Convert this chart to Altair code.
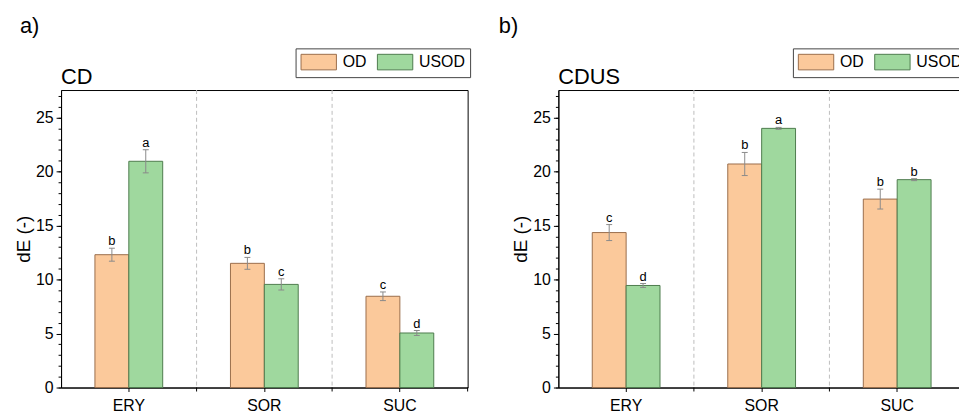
import altair as alt
import pandas as pd

# ---------------- data ----------------
categories = ["ERY", "SOR", "SUC"]
series = ["OD", "USOD"]

cd_od = [12.3, 11.5, 8.45]
cd_od_err = [0.6, 0.55, 0.4]
cd_od_letters = ["b", "b", "c"]
cd_usod = [20.95, 9.55, 5.05]
cd_usod_err = [1.07, 0.52, 0.23]
cd_usod_letters = ["a", "c", "d"]

cdus_od = [14.35, 20.7, 17.45]
cdus_od_err = [0.74, 1.07, 0.92]
cdus_od_letters = ["c", "b", "b"]
cdus_usod = [9.45, 24.0, 19.25]
cdus_usod_err = [0.18, 0.09, 0.09]
cdus_usod_letters = ["d", "a", "b"]

y_ticks = [0, 5, 10, 15, 20, 25]
y_minor = list(range(0, 28))
y_max = 27.55

fills = ["#FBC99B", "#9FD89E"]
strokes = ["#9A6D4B", "#4E7B4E"]
ERR_COL = "#8a8a8a"
FONT = "Liberation Sans"
W, H = 410, 300


def frame(od, od_err, od_l, usod, usod_err, usod_l):
    rows = []
    for i, c in enumerate(categories):
        rows.append(dict(cat=c, grp="OD", val=od[i], err=od_err[i], lab=od_l[i]))
        rows.append(dict(cat=c, grp="USOD", val=usod[i], err=usod_err[i], lab=usod_l[i]))
    df = pd.DataFrame(rows)
    df["lo"] = df["val"] - df["err"]
    df["hi"] = df["val"] + df["err"]
    return df


def panel(df, title, tag, tag_dx):
    xs = alt.Scale(domain=categories, paddingInner=0, paddingOuter=0)
    x_axis = alt.Axis(title=None, labelFontSize=16, labelFont=FONT, labelColor="black",
                      tickSize=4, tickColor="black", domainColor="black", labelPadding=6,
                      labelAngle=0, grid=False)

    def X(**kw):
        return alt.X("cat:N", sort=categories, scale=xs, axis=x_axis, title=None, **kw)

    xo = alt.XOffset("grp:N", sort=series,
                     scale=alt.Scale(domain=series, paddingOuter=1, paddingInner=0))
    ys = alt.Scale(domain=[0, y_max], nice=False, zero=True)
    y_major = alt.Axis(values=y_ticks, tickSize=5, labelFontSize=16, labelFont=FONT,
                       labelColor="black", labelPadding=3, tickColor="black",
                       domainColor="black", title="dE (-)", titleFontSize=19,
                       titleFont=FONT, titleFontWeight="normal", titleColor="black",
                       titlePadding=2, grid=False, orient="left")
    y_minor_axis = alt.Axis(values=y_minor, tickSize=3, labels=False, domain=False,
                            title=None, grid=False, orient="left", tickColor="black")

    legend = alt.Legend(orient="none", legendX=236.5, legendY=-42, direction="horizontal",
                        title=None, symbolType="M-1,-0.98H3.46V0.98H-1Z", symbolSize=256,
                        symbolStrokeWidth=1, labelOffset=25.5, columnPadding=8,
                        padding=5, strokeColor="#444444", fillColor="white",
                        labelFontSize=16, labelFont=FONT, labelColor="black")

    color = alt.Color("grp:N", sort=series, scale=alt.Scale(domain=series, range=fills),
                      legend=legend)
    stroke = alt.Stroke("grp:N", sort=series, scale=alt.Scale(domain=series, range=strokes),
                        legend=legend)

    base = alt.Chart(df)
    bounds = alt.Chart(pd.DataFrame({"cat": categories[1:]}))
    last = alt.Chart(pd.DataFrame({"cat": categories[-1:]}))

    seps = bounds.mark_rule(strokeDash=[4, 3], color="#bdbdbd", strokeWidth=1).encode(
        x=X(bandPosition=0))
    bticks = bounds.mark_rule(color="black", strokeWidth=1).encode(
        x=X(bandPosition=0), y=alt.value(H), y2=alt.value(H + 4))
    eticks = last.mark_rule(color="black", strokeWidth=1).encode(
        x=X(bandPosition=1), y=alt.value(H), y2=alt.value(H + 4))

    bars = base.mark_bar(strokeWidth=1).encode(
        x=X(), xOffset=xo,
        y=alt.Y("val:Q", scale=ys, axis=y_major),
        color=color, stroke=stroke,
    )
    err = base.mark_rule(color=ERR_COL, strokeWidth=1).encode(
        x=X(), xOffset=xo,
        y=alt.Y("lo:Q", scale=ys, axis=y_minor_axis), y2="hi:Q",
    )
    cap_lo = base.mark_tick(orient="horizontal", size=6, thickness=1, color=ERR_COL, opacity=1).encode(
        x=X(), xOffset=xo, y=alt.Y("lo:Q", scale=ys, axis=None))
    cap_hi = base.mark_tick(orient="horizontal", size=6, thickness=1, color=ERR_COL, opacity=1).encode(
        x=X(), xOffset=xo, y=alt.Y("hi:Q", scale=ys, axis=None))
    letters = base.mark_text(baseline="alphabetic", dy=-3, fontSize=13, font=FONT,
                             color="black").encode(
        x=X(), xOffset=xo, y=alt.Y("hi:Q", scale=ys, axis=None), text="lab:N")

    title_t = alt.Chart(pd.DataFrame({"t": [title]})).mark_text(
        align="left", baseline="alphabetic", fontSize=22, font=FONT, color="black"
    ).encode(x=alt.value(0), y=alt.value(-6.5), text="t:N")
    tag_t = alt.Chart(pd.DataFrame({"t": [tag]})).mark_text(
        align="left", baseline="alphabetic", fontSize=22, font=FONT, color="black"
    ).encode(x=alt.value(tag_dx), y=alt.value(-57.5), text="t:N")

    return alt.layer(seps, bticks, eticks, bars, err, cap_lo, cap_hi, letters, title_t,
                     tag_t).resolve_axis(y="independent").properties(width=W, height=H)


left = panel(frame(cd_od, cd_od_err, cd_od_letters, cd_usod, cd_usod_err, cd_usod_letters),
             "CD", "a)", -41.5)
right = panel(frame(cdus_od, cdus_od_err, cdus_od_letters, cdus_usod, cdus_usod_err,
                    cdus_usod_letters), "CDUS", "b)", -60)

chart = alt.hconcat(left, right, spacing=26.5).resolve_scale(color="independent", stroke="independent").properties(
    padding={"left": 5.5, "top": 5, "right": -9.5, "bottom": 0}
).configure_view(stroke="black", strokeWidth=1).configure_axis(domainWidth=1, tickWidth=1)

chart.save("out.html", embed_options={"renderer": "svg", "actions": False})
